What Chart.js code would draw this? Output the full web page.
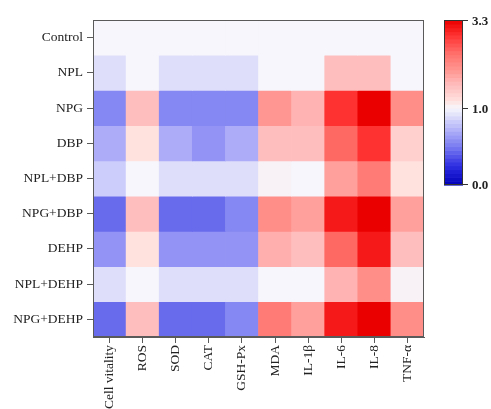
<!DOCTYPE html>
<html>
<head>
<meta charset="utf-8">
<script src="https://cdn.jsdelivr.net/npm/chart.js@4/dist/chart.umd.min.js"></script>
<style>
  html, body { margin: 0; padding: 0; background: #fff; }
  #wrap { position: relative; width: 491px; height: 409px; }
</style>
</head>
<body>
<div id="wrap"><canvas id="c" width="491" height="409"></canvas></div>
<script>
// Indicators (columns) and treatment groups (rows, top to bottom)
const markers = ['Cell vitality', 'ROS', 'SOD', 'CAT', 'GSH-Px', 'MDA', 'IL-1β', 'IL-6', 'IL-8', 'TNF-α'];
const groups = ['Control', 'NPL', 'NPG', 'DBP', 'NPL+DBP', 'NPG+DBP', 'DEHP', 'NPL+DEHP', 'NPG+DEHP'];

// Fold change relative to control, one array per group
const control  = [1.00, 1.00, 1.00, 1.00, 1.00, 1.00, 1.00, 1.00, 1.00, 1.00];
const npl      = [0.90, 1.00, 0.90, 0.90, 0.90, 1.00, 1.00, 1.60, 1.60, 1.00];
const npg      = [0.55, 1.60, 0.55, 0.55, 0.55, 2.00, 1.70, 2.90, 3.30, 2.10];
const dbp      = [0.70, 1.20, 0.70, 0.60, 0.70, 1.60, 1.60, 2.50, 2.90, 1.40];
const nplDbp   = [0.83, 1.00, 0.90, 0.90, 0.90, 1.05, 1.00, 1.90, 2.30, 1.20];
const npgDbp   = [0.45, 1.60, 0.45, 0.45, 0.55, 2.10, 1.90, 3.10, 3.30, 1.90];
const dehp     = [0.60, 1.20, 0.60, 0.60, 0.60, 1.75, 1.60, 2.50, 3.10, 1.60];
const nplDehp  = [0.90, 1.00, 0.90, 0.90, 0.90, 1.00, 1.00, 1.70, 2.10, 1.05];
const npgDehp  = [0.45, 1.60, 0.45, 0.45, 0.55, 2.30, 1.90, 3.10, 3.30, 2.10];
const rows = [control, npl, npg, dbp, nplDbp, npgDbp, dehp, nplDehp, npgDehp];

// Colour scale limits and tick labels
const scaleMin = 0.0, scaleMid = 1.0, scaleMax = 3.3;
const scaleTicks = ['0.0', '1.0', '3.3'];

// Diverging blue - white - red colour map
const stops = [
  [0.00,   0,   0, 185],
  [0.25,  45,  45, 225],
  [0.50, 120, 122, 240],
  [0.75, 185, 185, 250],
  [1.00, 246, 246, 252],
  [1.20, 255, 225, 222],
  [1.60, 255, 190, 190],
  [2.00, 255, 150, 145],
  [2.50, 255, 105, 100],
  [2.90, 255,  50,  50],
  [3.30, 235,   0,   0]
];
function cmap(v) {
  v = Math.max(scaleMin, Math.min(scaleMax, v));
  for (let i = 0; i < stops.length - 1; i++) {
    const a = stops[i], b = stops[i + 1];
    if (v <= b[0]) {
      const t = (v - a[0]) / (b[0] - a[0]);
      const c = [1, 2, 3].map(k => Math.round(a[k] + (b[k] - a[k]) * t));
      return `rgb(${c[0]},${c[1]},${c[2]})`;
    }
  }
  const l = stops[stops.length - 1];
  return `rgb(${l[1]},${l[2]},${l[3]})`;
}

const FONT = 'Liberation Serif, "Times New Roman", serif';
const AXIS = '#5a5a5a';

// One floating-bar dataset per group row: each cell spans [row, row+1]
const datasets = rows.map((vals, r) => ({
  label: groups[r],
  data: vals.map(() => [r, r + 1]),
  backgroundColor: vals.map(cmap),
  borderWidth: 0,
  grouped: false,
  barPercentage: 1.0,
  categoryPercentage: 1.0
}));

// Frame around the plot plus the colour bar legend
const framePlugin = {
  id: 'frameAndColorbar',
  afterDraw(chart) {
    const ctx = chart.ctx;
    const a = chart.chartArea;
    ctx.save();
    ctx.strokeStyle = AXIS;
    ctx.lineWidth = 1;
    ctx.strokeRect(Math.round(a.left) + 0.5, Math.round(a.top) + 0.5,
                   Math.round(a.right - a.left) - 1, Math.round(a.bottom - a.top) - 1);

    // colour bar
    const x0 = 444, x1 = 463, top = 20, bottom = 185, midY = 108;
    const nLow = 20, nHigh = 23;
    for (let i = 0; i < nLow; i++) {
      const y1 = bottom - (bottom - midY) * i / nLow;
      const y2 = bottom - (bottom - midY) * (i + 1) / nLow;
      const v = scaleMin + (scaleMid - scaleMin) * (i + 0.5) / nLow;
      ctx.fillStyle = cmap(v);
      ctx.fillRect(x0, y2, x1 - x0, y1 - y2 + 0.6);
    }
    for (let i = 0; i < nHigh; i++) {
      const y1 = midY - (midY - top) * i / nHigh;
      const y2 = midY - (midY - top) * (i + 1) / nHigh;
      const v = scaleMid + (scaleMax - scaleMid) * (i + 0.5) / nHigh;
      ctx.fillStyle = cmap(v);
      ctx.fillRect(x0, y2, x1 - x0, y1 - y2 + 0.6);
    }
    ctx.strokeStyle = '#333';
    ctx.strokeRect(x0 + 0.5, top + 0.5, x1 - x0 - 1, bottom - top - 1);
    ctx.fillStyle = '#222';
    ctx.font = 'bold 13px ' + FONT;
    ctx.textBaseline = 'middle';
    ctx.textAlign = 'left';
    const ys = [bottom - 0.5, midY + 0.5, top + 0.5];
    ys.forEach((y, i) => {
      ctx.beginPath();
      ctx.moveTo(x1, y);
      ctx.lineTo(x1 + 5, y);
      ctx.stroke();
      ctx.fillText(scaleTicks[i], x1 + 9, y + 1);
    });
    ctx.restore();
  }
};

new Chart(document.getElementById('c'), {
  type: 'bar',
  data: { labels: markers, datasets },
  options: {
    responsive: false,
    animation: false,
    devicePixelRatio: 1,
    layout: { padding: { top: 20, right: 67, left: 0, bottom: 0 } },
    plugins: { legend: { display: false }, tooltip: { enabled: false } },
    scales: {
      x: {
        type: 'category',
        offset: true,
        grid: { display: true, offset: false, drawOnChartArea: false, drawTicks: true, tickLength: 6, color: AXIS },
        border: { display: true, color: AXIS },
        ticks: {
          autoSkip: false, minRotation: 90, maxRotation: 90, padding: 2,
          color: '#222', font: { family: FONT, size: 13.5 }
        },
        afterFit(scale) { scale.height = 72; }
      },
      y: {
        type: 'linear',
        min: 0, max: groups.length,
        reverse: true,
        grid: { display: true, drawOnChartArea: false, drawTicks: true, tickLength: 6, color: AXIS },
        border: { display: true, color: AXIS },
        afterBuildTicks(scale) { scale.ticks = groups.map((_, i) => ({ value: i + 0.5 })); },
        ticks: {
          padding: 4, color: '#222', font: { family: FONT, size: 13.5 },
          callback: (v) => groups[Math.floor(v)]
        },
        afterFit(scale) { scale.width = 93; }
      }
    }
  },
  plugins: [framePlugin]
});
</script>
</body>
</html>
